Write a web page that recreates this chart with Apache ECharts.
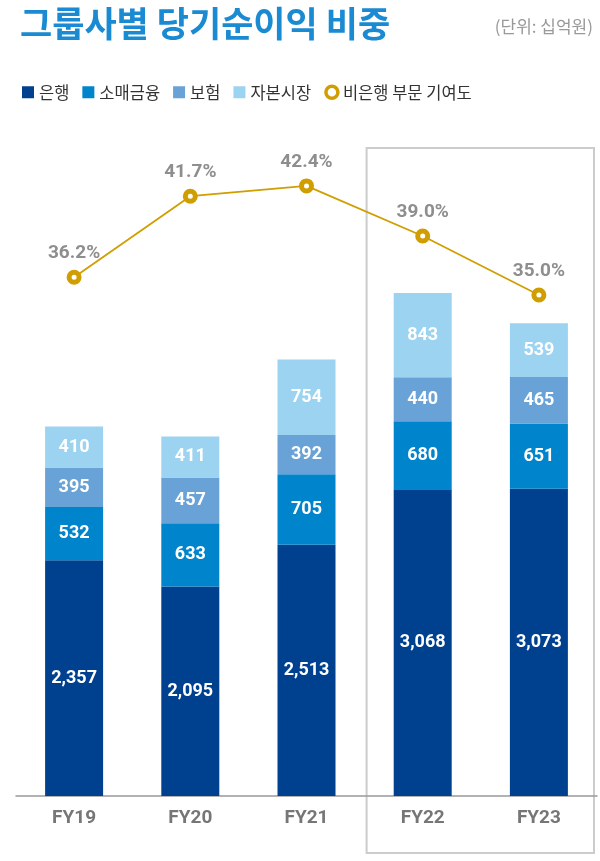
<!DOCTYPE html>
<html>
<head>
<meta charset="utf-8">
<script src="https://cdn.jsdelivr.net/npm/echarts@6/dist/echarts.min.js"></script>
<style>
  html, body { margin: 0; padding: 0; background: #fff; }
  #chart { width: 600px; height: 861px; }
</style>
</head>
<body>
<div id="chart"></div>
<script>
var years = ['FY19', 'FY20', 'FY21', 'FY22', 'FY23'];
var bank = [2357, 2095, 2513, 3068, 3073];
var retail = [532, 633, 705, 680, 651];
var insurance = [395, 457, 392, 440, 465];
var capital = [410, 411, 754, 843, 539];
var nonBankShare = [36.2, 41.7, 42.4, 39.0, 35.0];
var highlighted = ['FY22', 'FY23'];

var chart = echarts.init(document.getElementById('chart'));

var fontFamily = 'Roboto, "Noto Sans CJK KR", sans-serif';
var krFont = '"Noto Sans CJK KR", sans-serif';
var gold = '#d09e00';

function barSeries(name, data, color) {
    return {
        name: name,
        type: 'bar',
        stack: 'total',
        barWidth: 58,
        data: data,
        itemStyle: { color: color },
        label: {
            show: true,
            position: 'inside',
            color: '#fff',
            fontSize: 18,
            fontWeight: 'bold',
            fontFamily: fontFamily,
            formatter: function(p) {
                return p.value.toLocaleString('en-US');
            }
        }
    };
}

var option = {
    animation: false,
    backgroundColor: '#fff',
    title: [
        {
            text: '그룹사별 당기순이익 비중',
            left: 15,
            top: 1,
            textStyle: {
                color: '#1a8bd2',
                fontSize: 35,
                fontWeight: 'bold',
                fontFamily: krFont
            }
        },
        {
            text: '(단위: 십억원)',
            right: 2,
            top: 13,
            textStyle: {
                color: '#999',
                fontSize: 17,
                fontWeight: 'normal',
                fontFamily: krFont
            }
        }
    ],
    legend: {
        left: 17,
        top: 79,
        itemWidth: 12,
        itemHeight: 12,
        itemGap: 13,
        textStyle: {
            color: '#333',
            fontSize: 16.5,
            fontFamily: krFont
        },
        data: [
            { name: '은행', icon: 'rect' },
            { name: '소매금융', icon: 'rect' },
            { name: '보험', icon: 'rect' },
            { name: '자본시장', icon: 'rect' },
            { name: '비은행 부문 기여도', icon: 'circle', itemStyle: { color: '#fff', borderColor: gold, borderWidth: 3.5 } }
        ]
    },
    grid: {
        left: 16,
        right: 3,
        top: 96,
        bottom: 65
    },
    xAxis: {
        type: 'category',
        data: years,
        axisTick: { show: false },
        axisLine: { lineStyle: { color: '#999', width: 1.5 } },
        axisLabel: {
            color: '#767676',
            fontSize: 19,
            fontWeight: 'bold',
            fontFamily: fontFamily,
            margin: 13
        }
    },
    yAxis: [
        {
            type: 'value',
            min: 0,
            max: 7000,
            show: false,
            splitLine: { show: false }
        },
        {
            type: 'value',
            min: 1,
            max: 48.5,
            show: false,
            splitLine: { show: false }
        }
    ],
    series: [
        barSeries('은행', bank, '#00418f'),
        barSeries('소매금융', retail, '#0084cc'),
        barSeries('보험', insurance, '#68a2d6'),
        barSeries('자본시장', capital, '#9cd3f0'),
        {
            name: '비은행 부문 기여도',
            type: 'line',
            yAxisIndex: 1,
            data: nonBankShare,
            symbol: 'circle',
            symbolSize: 10,
            showAllSymbol: true,
            lineStyle: { color: gold, width: 1.8 },
            itemStyle: { color: '#fff', borderColor: gold, borderWidth: 5 },
            label: {
                show: true,
                position: 'top',
                distance: 7,
                color: '#8e8e8e',
                fontSize: 19,
                fontWeight: 'bold',
                fontFamily: fontFamily,
                formatter: function(p) {
                    return p.value.toFixed(1) + '%';
                }
            },
            z: 5
        }
    ]
};

chart.setOption(option);

// highlight box around the last two years
var first = chart.convertToPixel({ xAxisIndex: 0 }, highlighted[0]);
var last = chart.convertToPixel({ xAxisIndex: 0 }, highlighted[highlighted.length - 1]);
var band = chart.convertToPixel({ xAxisIndex: 0 }, years[1]) - chart.convertToPixel({ xAxisIndex: 0 }, years[0]);
var boxLeft = first - band / 2 + 2;
var boxRight = last + band / 2 - 3;

chart.setOption({
    graphic: [{
        type: 'rect',
        z: -1,
        shape: { x: boxLeft, y: 148, width: boxRight - boxLeft, height: 705 },
        style: { fill: 'none', stroke: '#cccccc', lineWidth: 2 }
    }]
});
</script>
</body>
</html>
